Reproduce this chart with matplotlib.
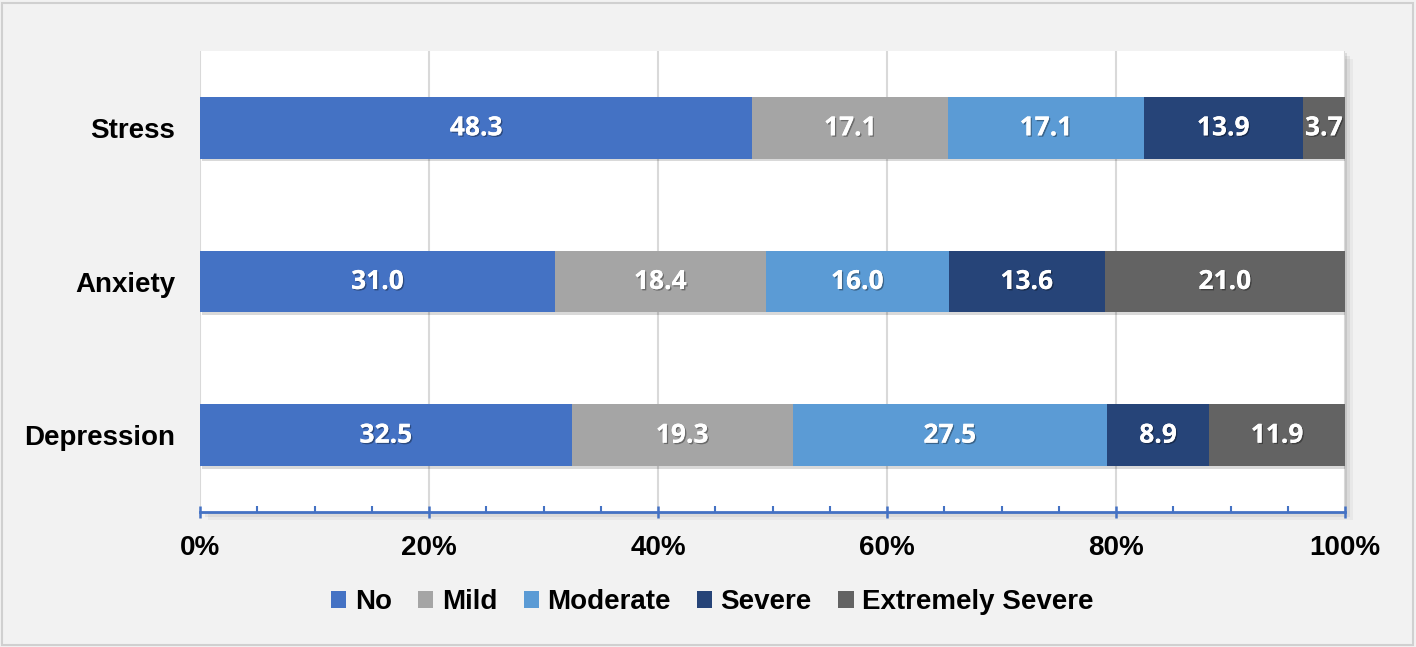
import numpy as np
import matplotlib
matplotlib.use("Agg")
import matplotlib.pyplot as plt
from matplotlib.patches import Rectangle, Patch
from matplotlib import patheffects as pe

# data (bottom row first)
categories = ['Depression', 'Anxiety', 'Stress']
series_names = ['No', 'Mild', 'Moderate', 'Severe', 'Extremely Severe']
no_vals = [32.5, 31.0, 48.3]
mild_vals = [19.3, 18.4, 17.1]
moderate_vals = [27.5, 16.0, 17.1]
severe_vals = [8.9, 13.6, 13.9]
extreme_vals = [11.9, 21.0, 3.7]
colors = ['#4472c4', '#a5a5a5', '#5b9bd5', '#264478', '#636363']
x_ticks = [0, 20, 40, 60, 80, 100]

W, H = 1416, 647
fig = plt.figure(figsize=(W / 100, H / 100), dpi=100, facecolor='#f2f2f2')

# outer border
fig.add_artist(Rectangle((2 / W, 2 / H), (W - 5) / W, (H - 5) / H, transform=fig.transFigure,
                         fill=False, edgecolor='#d0d0d0', linewidth=1.5))

ax_l, ax_r, ax_t, ax_b = 200, 1345, 51, 512
rect = [ax_l / W, 1 - ax_b / H, (ax_r - ax_l) / W, (ax_b - ax_t) / H]

# plot area shadow (a few layers to fake a blur)
for k, a in [(8, 0.04), (5, 0.06), (2, 0.09)]:
    fig.add_artist(Rectangle((rect[0] + k / W, rect[1] - k / H), rect[2], rect[3],
                             transform=fig.transFigure, facecolor='black', alpha=a,
                             edgecolor='none', zorder=-1))

ax = fig.add_axes(rect, facecolor='white')

data = np.array([no_vals, mild_vals, moderate_vals, severe_vals, extreme_vals])
pct = data / data.sum(axis=0) * 100
y = np.arange(len(categories))
left = np.zeros(len(categories))
bar_shadow = [pe.withSimplePatchShadow(offset=(1.5, -2), shadow_rgbFace='black', alpha=0.15),
              pe.Normal()]
txt_shadow = [pe.withSimplePatchShadow(offset=(1, -1), shadow_rgbFace='black', alpha=0.35),
              pe.Normal()]

for i, name in enumerate(series_names):
    bars = ax.barh(y, pct[i], left=left, height=0.4, color=colors[i], zorder=3)
    for b in bars:
        b.set_path_effects(bar_shadow)
    for j in range(len(categories)):
        t = ax.text(left[j] + pct[i][j] / 2, y[j], '%.1f' % data[i][j], ha='center', va='center',
                    color='white', fontsize=19, fontweight='bold', family='Open Sans', zorder=5)
        t.set_path_effects(txt_shadow)
    left += pct[i]

ax.set_xlim(0, 100)
ax.set_ylim(-0.5, 2.5)
ax.set_xticks(x_ticks)
ax.set_xticks(np.arange(0, 101, 5), minor=True)
ax.set_xticklabels(['%d%%' % v for v in x_ticks])
ax.set_yticks(y)
ax.set_yticklabels(categories)
ax.grid(axis='x', color='#d9d9d9', linewidth=1.5, zorder=0)
ax.set_axisbelow(True)

for s in ['top', 'right', 'left']:
    ax.spines[s].set_visible(False)
ax.spines['bottom'].set_color('#4472c4')
ax.spines['bottom'].set_linewidth(2)
ax.spines['bottom'].set_zorder(4)

ax.tick_params(axis='x', which='major', direction='inout', length=9, width=1.8, color='#4472c4',
               pad=12)
ax.tick_params(axis='x', which='minor', direction='in', length=4.5, width=1.5, color='#4472c4')
ax.tick_params(axis='y', length=0, pad=18)
for lab in ax.get_xticklabels() + ax.get_yticklabels():
    lab.set_fontsize(20)
    lab.set_fontweight('bold')
    lab.set_family('Liberation Sans')

handles = [Patch(facecolor=c, edgecolor='none') for c in colors]
fig.legend(handles, series_names, loc='center', bbox_to_anchor=(0.503, 1 - 602 / H), ncol=5,
           frameon=False, handlelength=0.55, handleheight=0.55, handletextpad=0.3,
           columnspacing=0.95, prop={'family': 'Liberation Sans', 'weight': 'bold', 'size': 20})

fig.savefig('out.png', dpi=100, facecolor=fig.get_facecolor())
